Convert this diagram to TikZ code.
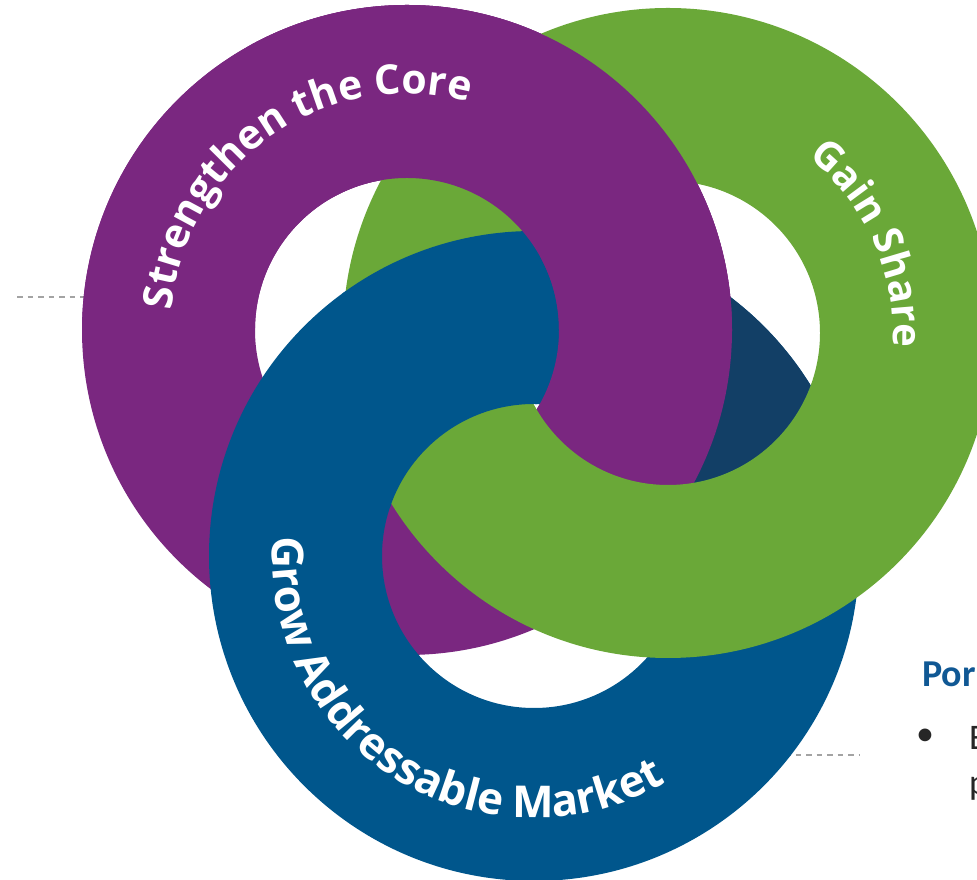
\documentclass[tikz,border=0pt]{standalone}
\usepackage{fontspec}
\setmainfont{Carlito}
\newfontfamily\ringfont{Open Sans}
\usetikzlibrary{decorations.text}
\definecolor{ringpurple}{RGB}{122,39,128}
\definecolor{ringgreen}{RGB}{106,168,56}
\definecolor{ringblue}{RGB}{0,86,140}
\definecolor{ringnavy}{RGB}{18,63,102}
\definecolor{dashgray}{RGB}{163,163,163}
\definecolor{headblue}{RGB}{16,88,148}
\definecolor{bodytext}{RGB}{38,38,38}
\tikzset{
  dashline/.style={draw=dashgray, line width=2.8pt, dash pattern=on 5.5pt off 5pt},
  ringtext/.style={decorate, decoration={text along path, text align=center, text={#1}}},
  sidetext/.style={anchor=base west, inner sep=0pt}
}
\newcommand{\annulus}[2]{\fill[#1, even odd rule] (#2) circle[radius=325] (#2) circle[radius=152];}
\begin{document}
\begin{tikzpicture}[x=1pt,y=1pt]
\useasboundingbox (0,0) rectangle (977,880);
\coordinate (P) at (407,550);
\coordinate (G) at (668,547);
\coordinate (B) at (534,324);
% dashed leader lines
\coordinate (dla) at (17,583);
\coordinate (dlb) at (90,583);
\coordinate (dra) at (785,125);
\coordinate (drb) at (860,125);
\draw[dashline] (dla) -- (dlb);
\draw[dashline] (dra) -- (drb);
% base rings
\annulus{ringpurple}{P}
\annulus{ringblue}{B}
% blue seen through the green ring
\begin{scope}
  \clip (G) circle[radius=152];
  \clip (600,0) rectangle (977,880);
  \annulus{ringnavy}{B}
\end{scope}
% purple over blue (right crossing)
\begin{scope}
  \clip (-228,1680) -- (1169,-806) -- (2000,-806) -- (2000,1680) -- cycle;
  \annulus{ringpurple}{P}
\end{scope}
% green ring
\annulus{ringgreen}{G}
% blue over green (upper-left crossing), limited to a slightly widened green band
\begin{scope}
  \clip (996,547) arc[start angle=0, end angle=360, radius=328]
        -- (817,547) arc[start angle=0, end angle=-360, radius=149] -- cycle;
  \clip (B) -- ++(80:900) arc[start angle=80, end angle=165, radius=900] -- cycle;
  \annulus{ringblue}{B}
\end{scope}
% purple over green (top crossing)
\begin{scope}
  \clip (-898,565) -- (1973,532) -- (1973,2000) -- (-898,2000) -- cycle;
  \annulus{ringpurple}{P}
\end{scope}
% ring labels
\begin{scope}[shift={(407,550)}]
  \path[ringtext={|\ringfont\bfseries\fontsize{41}{41}\selectfont\color{white}|Strengthen the Core}]
    (185:236) arc[start angle=185, end angle=65, radius=236];
\end{scope}
\begin{scope}[shift={(668,547)}]
  \path[ringtext={|\ringfont\bfseries\fontsize{40}{40}\selectfont\color{white}|Gain Share}]
    (84:225) arc[start angle=84, end angle=-36, radius=225];
\end{scope}
\begin{scope}[shift={(534,324)}]
  \path[ringtext={|\ringfont\bfseries\fontsize{44}{44}\selectfont\color{white}|Grow Addressable Market}]
    (165:262) arc[start angle=165, end angle=311, radius=262];
\end{scope}
% side text (cut by the page edge)
\node[sidetext, font=\bfseries\fontsize{38}{44}\selectfont, text=headblue] (hdr) at (922,193) {Por};
\node[inner sep=0pt, font=\fontsize{36}{44}\selectfont, text=bodytext] (bul) at (925,143) {•};
\node[sidetext, font=\fontsize{36}{44}\selectfont, text=bodytext] (lna) at (969,130) {E};
\node[sidetext, font=\fontsize{36}{44}\selectfont, text=bodytext] (lnb) at (969,85) {p};
\end{tikzpicture}
\end{document}
